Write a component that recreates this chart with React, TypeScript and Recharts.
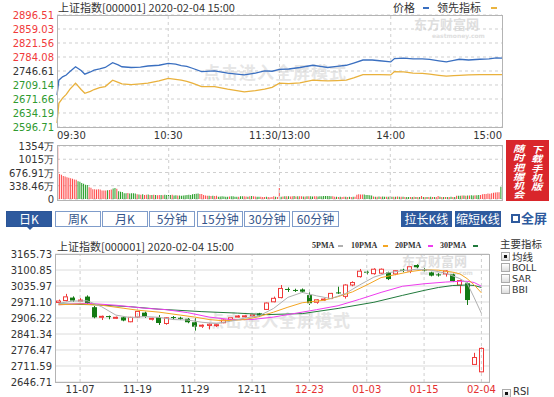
import React from "react";
import {
  ComposedChart,
  Line,
  Bar,
  Cell,
  XAxis,
  YAxis,
  CartesianGrid,
  ReferenceLine,
} from "recharts";

const NUM = '"DejaVu Sans", Verdana, sans-serif';
const CJK = '"Noto Sans CJK SC", "Noto Sans", sans-serif';
const UP = "#f03a3a";
const DOWN = "#2f9a2f";

// ---- 分时 (intraday) ----
const minutes = [0, 1, 3, 5, 7, 10, 13, 15, 18, 20, 23, 26, 30, 33, 35, 40, 45, 49, 55, 60, 64, 67, 70, 73, 78, 85, 92, 97, 101, 107, 112, 116, 120, 125, 131, 138, 142, 146, 151, 156, 160, 165, 170, 174, 180, 182, 187, 192, 197, 201, 206, 210, 214, 217, 222, 228, 233, 237, 240];
const priceLine = [2682, 2722, 2731, 2736, 2745, 2758, 2748, 2738, 2744, 2749, 2752, 2756, 2769, 2763, 2758, 2756, 2757, 2760, 2762, 2767, 2765, 2761, 2759, 2754, 2745, 2747, 2741, 2738, 2736, 2741, 2747, 2746, 2751, 2752, 2756, 2762, 2759, 2756, 2759, 2762, 2768, 2776, 2776, 2774, 2771, 2780, 2781, 2779, 2779, 2778, 2774, 2771, 2775, 2778, 2776, 2778, 2779, 2782, 2781];
const leadLine = [2607, 2660, 2674, 2684, 2698, 2714, 2697, 2687, 2692, 2697, 2702, 2705, 2722, 2716, 2712, 2710, 2712, 2714, 2720, 2727, 2724, 2722, 2719, 2714, 2705, 2705, 2698, 2694, 2691, 2694, 2698, 2703, 2714, 2713, 2715, 2722, 2721, 2720, 2721, 2722, 2728, 2737, 2737, 2737, 2736, 2745, 2744, 2741, 2740, 2738, 2735, 2733, 2734, 2735, 2736, 2737, 2737, 2737, 2737];
const prevClose = 2746.61;
const priceTicks = [2896.51, 2859.03, 2821.56, 2784.08, 2746.61, 2709.14, 2671.66, 2634.19, 2596.71];
const pctTicks = [5.46, 4.09, 2.73, 1.36, 0, -1.36, -2.73, -4.09, -5.46];
const timeTicks = [0, 60, 120, 180, 240];
const timeLabels = ["09:30", "10:30", "11:30/13:00", "14:00", "15:00"];

// ---- 成交量 (volume, 万) ----
const volumes = [
  1320, 640, 620, 585, 575, 555, 545, 530, 515, 500,
  490, 455, 440, 410, 390, 365, 360, 300, 290, 250,
  250, 245, 250, 245, 215, 215, 220, 225, 230, 240,
  270, 280, 265, 200, 185, 180, 150, 145, 155, 140,
  150, 145, 140, 120, 115, 110, 120, 105, 110, 115,
  100, 105, 110, 100, 95, 105, 100, 98, 110, 100,
  105, 100, 110, 90, 95, 88, 92, 85, 90, 95,
  100, 110, 105, 120, 130, 135, 140, 130, 125, 100,
  90, 85, 80, 78, 82, 75, 80, 60, 65, 70,
  62, 58, 60, 65, 70, 68, 60, 55, 58, 68,
  70, 72, 65, 60, 70, 75, 68, 62, 60, 58,
  55, 50, 52, 55, 48, 45, 50, 70, 55, 48,
  280, 60, 65, 70, 68, 72, 66, 70, 74, 65,
  68, 72, 70, 66, 64, 70, 72, 68, 66, 70,
  68, 65, 70, 72, 75, 78, 76, 74, 72, 70,
  60, 55, 52, 56, 54, 55, 58, 52, 55, 54,
  56, 58, 110, 120, 115, 112, 118, 105, 100, 95,
  90, 62, 58, 60, 64, 58, 62, 60, 56, 60,
  62, 58, 60, 56, 62, 58, 60, 55, 50, 52,
  48, 50, 52, 55, 50, 48, 52, 75, 50, 48,
  52, 50, 55, 48, 52, 50, 75, 55, 52, 50,
  48, 52, 50, 55, 52, 50, 80, 85, 82, 88,
  90, 85, 92, 88, 95, 90, 98, 95, 100, 105,
  120, 125, 130, 140, 135, 150, 160, 165, 170, 175,
  310,
];
const volumeSides =
  "rrrrrrrrrr" + "rggggggrrr" + "rrrrrrrgrr" + "ggrgggggrg" + "gggrgrgrrg" +
  "rgrgrrgrgg" + "ggrggrgggg" + "gggggggrrr" + "rrgrgrrggg" + "gggrggggrg" +
  "grrgrgrrgg" + "rrrgrrrrgr" + "rgrgrgrrgr" + "grrgrgrggr" + "rggggggggr" +
  "rgrgrrgrgr" + "grrrrrgggg" + "grgrgrggrg" + "rgrgrgrgrg" + "grgrgrgrgr" +
  "grgrgrrgrg" + "rgrgrgrggr" + "grgrggrggr" + "rrrrrrrrrr" + "g";
const volumeTicks = [0, 338.46, 676.91, 1015.37, 1353.82];
const volumeLabels = ["0", "338.46万", "676.91万", "1015万", "1354万"];

// ---- 日K ----
const days = ["11-04", "11-05", "11-06", "11-07", "11-08", "11-11", "11-12", "11-13", "11-14", "11-15", "11-18", "11-19", "11-20", "11-21", "11-22", "11-25", "11-26", "11-27", "11-28", "11-29", "12-02", "12-03", "12-04", "12-05", "12-06", "12-09", "12-10", "12-11", "12-12", "12-13", "12-16", "12-17", "12-18", "12-19", "12-20", "12-23", "12-24", "12-25", "12-26", "12-27", "12-30", "12-31", "01-02", "01-03", "01-06", "01-07", "01-08", "01-09", "01-10", "01-13", "01-14", "01-15", "01-16", "01-17", "01-20", "01-21", "01-22", "01-23", "02-03", "02-04"];
const opens = [2969, 2977, 2989, 2977, 2993, 2950, 2910, 2914, 2906, 2909, 2891, 2910, 2928, 2903, 2909, 2884, 2910, 2907, 2903, 2889, 2874, 2876, 2876, 2887, 2900, 2912, 2912, 2916, 2925, 2941, 2972, 2989, 3024, 3020, 3022, 2999, 2970, 2980, 2985, 3010, 2994, 3040, 3074, 3094, 3086, 3088, 3091, 3085, 3102, 3097, 3121, 3103, 3091, 3083, 3085, 3083, 3040, 3047, 2718, 2688];
const highs = [2981, 3004, 2994, 2987, 2998, 2955, 2916, 2916, 2912, 2912, 2911, 2935, 2932, 2907, 2918, 2909, 2914, 2911, 2906, 2905, 2880, 2884, 2883, 2900, 2909, 2918, 2918, 2922, 2927, 2969, 2993, 3040, 3030, 3025, 3026, 3010, 2983, 2986, 3008, 3033, 3043, 3055, 3105, 3098, 3108, 3107, 3094, 3100, 3106, 3116, 3124, 3108, 3094, 3088, 3100, 3086, 3062, 3050, 2765, 2787];
const lows = [2966, 2974, 2972, 2971, 2963, 2905, 2898, 2901, 2902, 2893, 2889, 2906, 2907, 2896, 2878, 2879, 2900, 2898, 2885, 2855, 2866, 2860, 2870, 2885, 2897, 2908, 2908, 2912, 2912, 2939, 2970, 2986, 3012, 3012, 3008, 2959, 2964, 2975, 2983, 3004, 2985, 3035, 3070, 3083, 3082, 3085, 3060, 3080, 3092, 3088, 3108, 3094, 3075, 3074, 3074, 3052, 3006, 2959, 2716, 2686];
const closes = [2975, 2992, 2977, 2979, 2966, 2909, 2913, 2911, 2909, 2896, 2909, 2933, 2912, 2905, 2886, 2907, 2907, 2903, 2889, 2871, 2877, 2881, 2879, 2898, 2907, 2914, 2915, 2919, 2916, 2967, 2986, 3026, 3020, 3017, 3013, 2966, 2980, 2983, 3006, 3006, 3040, 3050, 3096, 3090, 3104, 3104, 3064, 3098, 3100, 3114, 3112, 3100, 3078, 3080, 3097, 3056, 3058, 2979, 2746, 2783];
// moving averages as [day index, value]
const ma5Points = [[0, 2966], [2, 2975], [4, 2976], [6, 2952], [8, 2918], [10, 2908], [12, 2912], [14, 2909], [16, 2900], [18, 2898], [20, 2889], [22, 2884], [24, 2893], [26, 2906], [28, 2915], [30, 2945], [32, 2990], [34, 3010], [36, 2996], [38, 2985], [40, 3005], [42, 3040], [44, 3072], [46, 3090], [48, 3098], [50, 3104], [52, 3100], [54, 3088], [56, 3066], [57, 3048], [58, 2988], [59, 2925]];
const ma10Points = [[0, 2960], [3, 2963], [6, 2958], [9, 2946], [11, 2938], [14, 2930], [17, 2918], [19, 2910], [21, 2900], [23, 2895], [26, 2900], [28, 2912], [30, 2930], [32, 2950], [34, 2968], [37, 2978], [39, 2993], [41, 3012], [43, 3040], [45, 3070], [47, 3082], [49, 3094], [51, 3102], [53, 3100], [55, 3092], [56, 3085], [57, 3066], [58, 3040], [59, 3008]];
const ma20Points = [[0, 2960], [4, 2966], [8, 2958], [12, 2946], [15, 2940], [18, 2928], [21, 2910], [24, 2900], [27, 2900], [30, 2910], [33, 2925], [36, 2940], [39, 2956], [42, 2982], [45, 3010], [48, 3035], [51, 3045], [54, 3052], [56, 3055], [57, 3055], [58, 3050], [59, 3035]];
const ma30Points = [[0, 2963], [5, 2960], [10, 2952], [14, 2942], [20, 2932], [25, 2926], [29, 2920], [34, 2924], [39, 2945], [44, 2970], [48, 2998], [51, 3018], [53, 3030], [55, 3038], [57, 3040], [58, 3038], [59, 3030]];
const klineTicks = [3165.73, 3100.85, 3035.97, 2971.1, 2906.22, 2841.34, 2776.47, 2711.59, 2646.71];
const dateTicks = ["11-07", "11-19", "11-29", "12-11", "12-23", "01-03", "01-15", "02-04"];

const intradayData = minutes.map((t, i) => ({ t, p: priceLine[i], l: leadLine[i] }));
const volumeData = volumes.map((v, i) => ({ i, v, up: volumeSides[i] === "r" }));
const pick = (pts: number[][], i: number) => {
  const f = pts.find((p) => p[0] === i);
  return f ? f[1] : null;
};
const klineData = days.map((date, i) => ({
  date,
  open: opens[i],
  high: highs[i],
  low: lows[i],
  close: closes[i],
  range: [lows[i], highs[i]],
  ma5: pick(ma5Points, i),
  ma10: pick(ma10Points, i),
  ma20: pick(ma20Points, i),
  ma30: pick(ma30Points, i),
}));

const tickColor = (v: number, mid: number) => (v > mid + 0.001 ? UP : v < mid - 0.001 ? DOWN : "#333");

const PriceTick = ({ y, payload }: any) => (
  <text x={54} y={y + 4} textAnchor="end" fontSize={10} fontFamily={NUM} fill={tickColor(payload.value, prevClose)}>
    {payload.value.toFixed(2)}
  </text>
);
const PctTick = ({ y, payload }: any) => (
  <text x={506} y={y + 4} textAnchor="start" fontSize={10} fontFamily={NUM} fill={tickColor(payload.value, 0)}>
    {Math.abs(payload.value).toFixed(2) + " %"}
  </text>
);
const TimeTick = ({ x, payload }: any) => {
  const idx = timeTicks.indexOf(payload.value);
  const anchor = idx === 0 ? "start" : idx === timeTicks.length - 1 ? "end" : "middle";
  return (
    <text x={x} y={139} textAnchor={anchor} fontSize={10} fontFamily={NUM} fill="#333">
      {timeLabels[idx]}
    </text>
  );
};
const VolTick = ({ y, payload }: any) => (
  <text x={54} y={y + 4} textAnchor="end" fontSize={10} fontFamily={NUM} fill="#333">
    {volumeLabels[volumeTicks.indexOf(payload.value)]}
  </text>
);
const KTick = ({ y, payload }: any) => (
  <text x={52} y={y + 4} textAnchor="end" fontSize={10} fontFamily={NUM} fill="#333">
    {payload.value.toFixed(2)}
  </text>
);
const DateTick = ({ x, payload }: any) => {
  const idx = dateTicks.indexOf(payload.value);
  if (idx < 0) return <g />;
  return (
    <text x={x} y={153} textAnchor="middle" fontSize={10} fontFamily={NUM} fill={idx < 4 ? "#333" : "#e53030"}>
      {payload.value}
    </text>
  );
};

const Candle = (props: any) => {
  let { x, y, width, height } = props;
  const { open, close, high, low } = props.payload;
  if (height < 0) {
    y += height;
    height = -height;
  }
  const k = height / Math.max(high - low, 0.01);
  const top = y + (high - Math.max(open, close)) * k;
  const bh = Math.max((Math.max(open, close) - Math.min(open, close)) * k, 1);
  const cx = Math.round(x + width / 2) + 0.5;
  const left = Math.round(x) + 0.5;
  const w = Math.round(width) - 1;
  if (close >= open) {
    return (
      <g>
        <line x1={cx} x2={cx} y1={y} y2={top} stroke={UP} />
        <line x1={cx} x2={cx} y1={top + bh} y2={y + height} stroke={UP} />
        <rect x={left} y={top} width={w} height={bh} fill="#fff" stroke={UP} />
      </g>
    );
  }
  return (
    <g>
      <line x1={cx} x2={cx} y1={y} y2={y + height} stroke="#137a13" />
      <rect x={left - 0.5} y={top} width={w + 1} height={bh} fill="#137a13" />
    </g>
  );
};

const box = (l: number, t: number, w: number, h: number): React.CSSProperties => ({
  position: "absolute",
  left: l,
  top: t,
  width: w,
  height: h,
  border: "1px solid #b4b4b4",
  boxSizing: "border-box",
  pointerEvents: "none",
});

const abs = (l: number, t: number, extra: React.CSSProperties = {}): React.CSSProperties => ({
  position: "absolute",
  left: l,
  top: t,
  whiteSpace: "nowrap",
  ...extra,
});

const txt = (size: number, extra: React.CSSProperties = {}): React.CSSProperties => ({
  fontSize: size,
  lineHeight: `${size + 1}px`,
  color: "#333",
  ...extra,
});

const watermark: React.CSSProperties = { fontSize: 17, lineHeight: "20px", fontWeight: 700, color: "#e6e6e6", fontFamily: CJK, letterSpacing: 1 };
const pmaText: React.CSSProperties = txt(8, { fontWeight: 700, fontFamily: '"Liberation Serif", serif' });
const vertical: React.CSSProperties = {
  position: "absolute",
  writingMode: "vertical-rl",
  color: "#fff",
  fontWeight: 700,
  fontSize: 9,
  lineHeight: "9px",
  letterSpacing: 0.3,
  fontStyle: "italic",
  transform: "scaleX(1.25)",
  transformOrigin: "left top",
};

const tabs = ["日K", "周K", "月K", "5分钟", "15分钟", "30分钟", "60分钟"];
const tabLeft = [6, 55, 102, 149, 197, 244, 292];

const Check = ({ x, y, on }: { x: number; y: number; on?: boolean }) => (
  <div style={{ ...abs(x, y), width: 9, height: 9, border: "1px solid #aaa", boxSizing: "border-box", background: "linear-gradient(#fff,#ddd)" }}>
    {on && <div style={{ position: "absolute", left: 2, top: 2, width: 3, height: 3, background: "#111" }} />}
  </div>
);

export default function App() {
  return (
    <div style={{ position: "absolute", left: 0, top: 0, width: 554, height: 397, overflow: "hidden", background: "#fff", fontFamily: CJK }}>
      {/* watermarks */}
      <div style={abs(203, 62, watermark)}>点击进入全屏模式</div>
      <div style={abs(414, 17, txt(13, { fontWeight: 700, color: "#dedede" }))}>东方财富网</div>
      <div style={abs(432, 32, txt(6, { color: "#dedede", fontFamily: NUM, fontWeight: 700 }))}>eastmoney.com</div>
      <div style={abs(207, 310, watermark)}>点击进入全屏模式</div>
      <div style={abs(402, 254, txt(13, { fontWeight: 700, color: "#dedede" }))}>东方财富网</div>
      <div style={abs(420, 269, txt(6, { color: "#dedede", fontFamily: NUM, fontWeight: 700 }))}>eastmoney.com</div>

      {/* header */}
      <div style={abs(58, 1, txt(11))}>上证指数[000001] 2020-02-04 15:00</div>
      <div style={abs(393, 1, txt(11))}>价格</div>
      <div style={abs(423, 7, { width: 6, height: 2, background: "#3a6fc0" })} />
      <div style={abs(437, 1, txt(11))}>领先指标</div>
      <div style={abs(491, 7, { width: 6, height: 2, background: "#eab440" })} />

      {/* intraday */}
      <div style={abs(0, 0)}>
        <ComposedChart width={554} height={145} data={intradayData} margin={{ top: 15, right: 0, bottom: 4, left: 0 }}>
          <CartesianGrid yAxisId="price" vertical={false} stroke="#cfcfcf" strokeDasharray="3 3" />
          <XAxis dataKey="t" type="number" domain={[0, 240]} ticks={timeTicks} tick={<TimeTick />} tickLine={false} axisLine={false} height={14} interval={0} />
          <YAxis yAxisId="price" orientation="left" domain={[2596.71, 2896.51]} ticks={priceTicks} tick={<PriceTick />} width={57} tickLine={false} axisLine={false} interval={0} />
          <YAxis yAxisId="pct" orientation="right" domain={[-5.46, 5.46]} ticks={pctTicks} tick={<PctTick />} width={52} tickLine={false} axisLine={false} interval={0} />
          {[60, 120, 180].map((t) => (
            <ReferenceLine key={t} x={t} yAxisId="price" stroke="#cfcfcf" strokeDasharray="3 3" />
          ))}
          <Line yAxisId="price" dataKey="l" stroke="#e9b13c" strokeWidth={1.3} dot={false} isAnimationActive={false} />
          <Line yAxisId="price" dataKey="p" stroke="#3a6fc0" strokeWidth={1.3} dot={false} isAnimationActive={false} />
        </ComposedChart>
      </div>
      <div style={box(57, 15, 446, 113)} />

      {/* volume */}
      <div style={abs(0, 140)}>
        <ComposedChart width={554} height={65} data={volumeData} margin={{ top: 6, right: 52, bottom: 6, left: 0 }} barCategoryGap="12%">
          <CartesianGrid vertical={false} stroke="#cfcfcf" strokeDasharray="3 3" />
          <XAxis dataKey="i" hide />
          <YAxis domain={[0, 1353.82]} ticks={volumeTicks} tick={<VolTick />} width={57} tickLine={false} axisLine={false} interval={0} />
          {[60, 120, 180].map((t) => (
            <ReferenceLine key={t} x={t} stroke="#cfcfcf" strokeDasharray="3 3" />
          ))}
          <Bar dataKey="v" isAnimationActive={false}>
            {volumeData.map((d) => (
              <Cell key={d.i} fill={d.up ? "#ff4a4a" : "#249c24"} />
            ))}
          </Bar>
        </ComposedChart>
      </div>
      <div style={box(57, 145, 446, 56)} />

      {/* download box */}
      <div style={abs(506, 140, { width: 43, height: 61, background: "#d9262b", overflow: "hidden" })}>
        <div style={{ ...vertical, left: 25, top: 5 }}>下载手机版</div>
        <div style={{ ...vertical, left: 7, top: 4 }}>随时把握机会</div>
      </div>

      {/* tabs */}
      {tabs.map((t, i) => (
        <div
          key={t}
          style={abs(tabLeft[i], 211, {
            width: i === 6 ? 47 : 46,
            height: 16,
            boxSizing: "border-box",
            border: i === 0 ? "1px solid #2b5597" : "1px solid #7f9cca",
            background: i === 0 ? "#2e5a9e" : "#fff",
            color: i === 0 ? "#fff" : "#34548a",
            fontSize: 12,
            lineHeight: "14px",
            textAlign: "center",
          })}
        >
          {t}
        </div>
      ))}
      <div style={abs(27, 227, { width: 0, height: 0, borderLeft: "3px solid transparent", borderRight: "3px solid transparent", borderTop: "3px solid #2e5a9e" })} />
      <div style={abs(401, 211, { width: 51, height: 16, background: "#2e5a9e", color: "#fff", fontSize: 12, lineHeight: "16px", textAlign: "center" })}>拉长K线</div>
      <div style={abs(455, 211, { width: 46, height: 16, background: "#2e5a9e", color: "#fff", fontSize: 12, lineHeight: "16px", textAlign: "center" })}>缩短K线</div>
      <div style={abs(511, 214, { width: 9, height: 9, border: "2px dashed #2e5a9e", boxSizing: "border-box" })} />
      <div style={abs(521, 211, txt(13, { color: "#2e5a9e", fontWeight: 700 }))}>全屏</div>

      {/* kline header */}
      <div style={abs(57, 240, txt(11))}>上证指数[000001] 2020-02-04 15:00</div>
      <div style={abs(312, 241, pmaText)}>5PMA</div>
      <div style={abs(338, 245, { width: 5, height: 2, background: "#b0b0b0" })} />
      <div style={abs(351, 241, pmaText)}>10PMA</div>
      <div style={abs(383, 245, { width: 5, height: 2, background: "#f4a623" })} />
      <div style={abs(395, 241, pmaText)}>20PMA</div>
      <div style={abs(428, 245, { width: 5, height: 2, background: "#ef3cef" })} />
      <div style={abs(440, 241, pmaText)}>30PMA</div>
      <div style={abs(473, 245, { width: 5, height: 2, background: "#217a3c" })} />

      {/* right panel */}
      <div style={abs(500, 238, txt(10.5))}>主要指标</div>
      <Check x={501} y={252} on />
      <div style={abs(512, 251, txt(10.5))}>均线</div>
      <Check x={501} y={263} />
      <div style={abs(512, 263, txt(9.5, { fontFamily: NUM }))}>BOLL</div>
      <Check x={501} y={274} />
      <div style={abs(512, 274, txt(9.5, { fontFamily: NUM }))}>SAR</div>
      <Check x={501} y={285} />
      <div style={abs(512, 285, txt(9.5, { fontFamily: NUM }))}>BBI</div>
      <Check x={502} y={389} on />
      <div style={abs(513, 386, txt(10, { fontFamily: NUM }))}>RSI</div>

      {/* kline */}
      <div style={abs(0, 240)}>
        <ComposedChart width={554} height={157} data={klineData} margin={{ top: 14, right: 65, bottom: 0, left: 0 }}>
          <CartesianGrid vertical={false} stroke="#dcdcdc" />
          <XAxis dataKey="date" tick={<DateTick />} interval={0} tickLine={false} axisLine={false} height={15} padding={{ left: 0, right: 4 }} />
          <YAxis domain={[2646.71, 3165.73]} ticks={klineTicks} tick={<KTick />} width={55} tickLine={false} axisLine={false} interval={0} />
          {dateTicks.map((d) => (
            <ReferenceLine key={d} x={d} stroke="#cfcfcf" strokeDasharray="3 3" />
          ))}
          <Line dataKey="ma30" stroke="#217a3c" strokeWidth={1} dot={false} connectNulls isAnimationActive={false} />
          <Line dataKey="ma20" stroke="#ef3cef" strokeWidth={1} dot={false} connectNulls isAnimationActive={false} />
          <Line dataKey="ma10" stroke="#f4a623" strokeWidth={1} dot={false} connectNulls isAnimationActive={false} />
          <Line dataKey="ma5" stroke="#b0b0b0" strokeWidth={1} dot={false} connectNulls isAnimationActive={false} />
          <Bar dataKey="range" barSize={5} shape={<Candle />} isAnimationActive={false} />
        </ComposedChart>
      </div>
      <div style={box(55, 254, 435, 129)} />
    </div>
  );
}
